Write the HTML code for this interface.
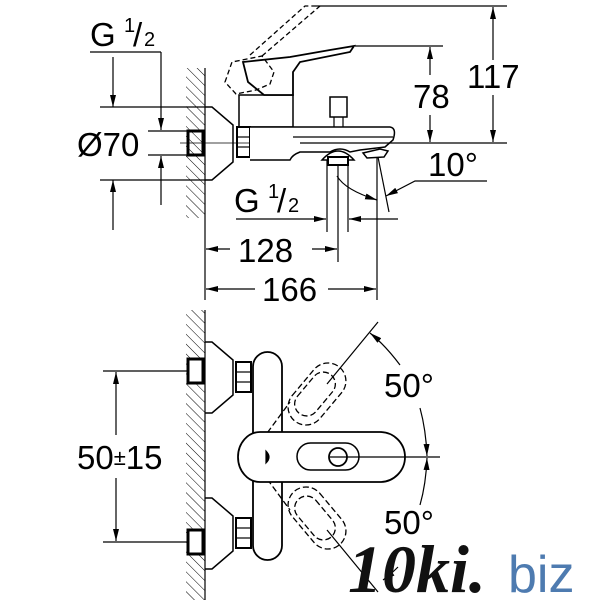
<!DOCTYPE html>
<html><head><style>html,body{margin:0;padding:0;background:#fff}svg{display:block}</style></head><body>
<svg width="600" height="600" viewBox="0 0 600 600" xmlns="http://www.w3.org/2000/svg" font-family="Liberation Sans, sans-serif">
<defs>
<pattern id="h" width="7" height="7" patternUnits="userSpaceOnUse" patternTransform="rotate(-45)"><line x1="0" y1="0" x2="0" y2="7" stroke="#000" stroke-width="1"/></pattern>
<marker id="a" markerWidth="12" markerHeight="6" refX="12" refY="3" orient="auto" markerUnits="userSpaceOnUse"><path d="M0,0 L12,3 L0,6z" fill="#000"/></marker>
</defs>
<g stroke="#000" fill="none" stroke-width="1.2">
<rect x="186" y="68" width="19" height="150" fill="url(#h)" stroke="none"/>
<line x1="205" y1="68" x2="205" y2="300"/>
<line x1="90" y1="52" x2="161" y2="52"/>
<line x1="161" y1="52" x2="161" y2="130" marker-end="url(#a)"/>
<line x1="161" y1="205" x2="161" y2="156" marker-end="url(#a)"/>
<line x1="100" y1="107" x2="205" y2="107"/><line x1="100" y1="180" x2="205" y2="180"/>
<line x1="148" y1="131" x2="205" y2="131"/><line x1="148" y1="155" x2="205" y2="155"/>
<line x1="113" y1="57" x2="113" y2="107" marker-end="url(#a)"/>
<line x1="113" y1="230" x2="113" y2="180" marker-end="url(#a)"/>
<line x1="180" y1="143" x2="400" y2="143" stroke-width="0.8"/>
<rect x="188" y="131" width="15" height="24" stroke-width="3"/>
<path d="M205,107 L212,107 L233,125 L233,162 L212,180 L205,180" stroke-width="1.5"/>
<rect x="237" y="127" width="13" height="30" stroke-width="2"/>
<line x1="237" y1="137" x2="250" y2="137"/><line x1="237" y1="147" x2="250" y2="147"/>
<rect x="239" y="95" width="54" height="32" stroke-width="1.5"/>
<path d="M250,127 L390,127 Q397,128 393,140 L385,147 L360,150 L350,152 Q340,146 330,152 L300,152 Q292,155 290,160 L250,160" stroke-width="1.5" fill="#fff"/>
<line x1="293" y1="137" x2="393" y2="137" stroke-width="1.2"/>
<path d="M322,160 Q338,142 354,160z" stroke-width="1.5" fill="#fff"/>
<rect x="328" y="157" width="20" height="8" stroke-width="2" fill="#fff"/>
<path d="M363,153 L380,149 L388,151 L384,157 L367,158z" stroke-width="1.5"/>
<rect x="330" y="97" width="17" height="20" stroke-width="1.5"/>
<line x1="334" y1="117" x2="334" y2="127"/><line x1="343" y1="117" x2="343" y2="127"/>
<path d="M243,62 L290,57 L330,50 L354,46 L350,52 L300,62 L293,72 L293,95 L264,95 L248,82z" stroke-width="1.8" fill="#fff"/>
<path d="M225,82 L232,62 L262,56 L274,72 L270,84 L256,90 L236,94z" stroke-width="1.3" stroke-dasharray="5,3"/>
<path d="M250,55 L305,6 L315,6 M262,56 L320,6" stroke-width="1.3" stroke-dasharray="5,3"/>
<line x1="315" y1="6" x2="507" y2="6"/>
<line x1="355" y1="46" x2="443" y2="46"/>
<line x1="300" y1="143" x2="507" y2="143"/>
<line x1="493" y1="60" x2="493" y2="7" marker-end="url(#a)"/>
<line x1="493" y1="95" x2="493" y2="142" marker-end="url(#a)"/>
<line x1="430" y1="75" x2="430" y2="47" marker-end="url(#a)"/>
<line x1="430" y1="115" x2="430" y2="142" marker-end="url(#a)"/>
<line x1="327" y1="160" x2="327" y2="232"/><line x1="348" y1="165" x2="348" y2="232"/>
<line x1="338" y1="165" x2="338" y2="262"/>
<line x1="377" y1="157" x2="377" y2="300"/>
<line x1="378" y1="157" x2="389" y2="212"/>
<path d="M337,176 Q345,190 377,200" marker-end="url(#a)"/>
<path d="M487,181 L415,181 L386,196" marker-end="url(#a)"/>
<line x1="303" y1="219" x2="326" y2="219" marker-end="url(#a)"/>
<line x1="398" y1="219" x2="349" y2="219" marker-end="url(#a)"/>
<line x1="236" y1="219" x2="303" y2="219"/>
<line x1="230" y1="249" x2="206" y2="249" marker-end="url(#a)"/>
<line x1="312" y1="249" x2="337" y2="249" marker-end="url(#a)"/>
<line x1="255" y1="289" x2="206" y2="289" marker-end="url(#a)"/>
<line x1="328" y1="289" x2="376" y2="289" marker-end="url(#a)"/>
<rect x="186" y="310" width="19" height="290" fill="url(#h)" stroke="none"/>
<line x1="205" y1="310" x2="205" y2="600"/>
<line x1="103" y1="371" x2="187" y2="371"/><line x1="103" y1="542" x2="187" y2="542"/>
<line x1="116" y1="435" x2="116" y2="372" marker-end="url(#a)"/>
<line x1="116" y1="478" x2="116" y2="541" marker-end="url(#a)"/>
<rect x="188" y="359" width="15" height="24" stroke-width="3" fill="#fff"/>
<rect x="188" y="530" width="15" height="24" stroke-width="3" fill="#fff"/>
<path d="M205,342 L212,342 L233,360 L233,395 L212,413 L205,413" stroke-width="1.5"/>
<path d="M205,498 L212,498 L233,516 L233,551 L212,569 L205,569" stroke-width="1.5"/>
<rect x="236" y="362" width="15" height="30" stroke-width="2"/>
<rect x="236" y="518" width="15" height="30" stroke-width="2"/>
<line x1="236" y1="372" x2="251" y2="372"/><line x1="236" y1="382" x2="251" y2="382"/>
<line x1="236" y1="528" x2="251" y2="528"/><line x1="236" y1="538" x2="251" y2="538"/>
<rect x="253" y="352" width="29" height="208" rx="14.5" stroke-width="1.8" fill="#fff"/>
<g stroke-dasharray="6,3" stroke-width="1.3">
<rect x="282" y="376" width="70" height="36" rx="18" transform="rotate(-50 317 394)"/>
<rect x="290" y="382" width="50" height="24" rx="12" transform="rotate(-50 315 394)"/>
<rect x="282" y="500" width="70" height="36" rx="18" transform="rotate(50 317 518)"/>
<rect x="290" y="506" width="50" height="24" rx="12" transform="rotate(50 315 518)"/>
<line x1="262" y1="440" x2="290" y2="402"/><line x1="262" y1="472" x2="290" y2="510"/>
</g>
<path d="M260,432 L380,432 A25,25 0 0 1 380,482 L260,482 A22,25 0 0 1 260,432z" stroke-width="1.8" fill="#fff"/>
<rect x="297" y="443" width="62" height="27" rx="13.5" stroke-width="1.5"/>
<circle cx="338" cy="457" r="9" stroke-width="1.8"/>
<path d="M266,451 L266,463 Q272,457 266,451z" fill="#000"/>
<line x1="330" y1="457" x2="440" y2="457"/>
<line x1="327" y1="384" x2="378" y2="322"/>
<line x1="327" y1="530" x2="378" y2="592"/>
<path d="M400,365 Q385,345 370,333" marker-end="url(#a)"/>
<path d="M420,408 Q426,430 427,456" marker-end="url(#a)"/>
<path d="M420,505 Q426,484 427,458" marker-end="url(#a)"/>
<path d="M398,567 Q390,575 383,580" marker-end="url(#a)"/>
</g>
<g fill="#000" font-size="33">
<text x="90" y="46">G</text><text x="124" y="32" font-size="20">1</text><text x="133" y="46">/</text><text x="144" y="46" font-size="20">2</text>
<text x="77" y="156">Ø70</text>
<text x="234" y="212">G</text><text x="268" y="198" font-size="20">1</text><text x="277" y="212">/</text><text x="288" y="212" font-size="20">2</text>
<text x="467" y="88">117</text>
<text x="413" y="108">78</text>
<text x="428" y="176">10°</text>
<text x="238" y="262">128</text>
<text x="262" y="301">166</text>
<text x="77" y="469">50<tspan font-size="22" dy="-4">±</tspan><tspan dy="4">15</tspan></text>
<text x="384" y="397">50°</text>
<text x="384" y="534">50°</text>
</g>
<text x="348" y="592" font-family="Liberation Serif, serif" font-style="italic" font-weight="bold" font-size="68" fill="#111">10ki.</text>
<text x="508" y="592" font-size="52" fill="#4e7bb0">biz</text>
</svg>
</body></html>
